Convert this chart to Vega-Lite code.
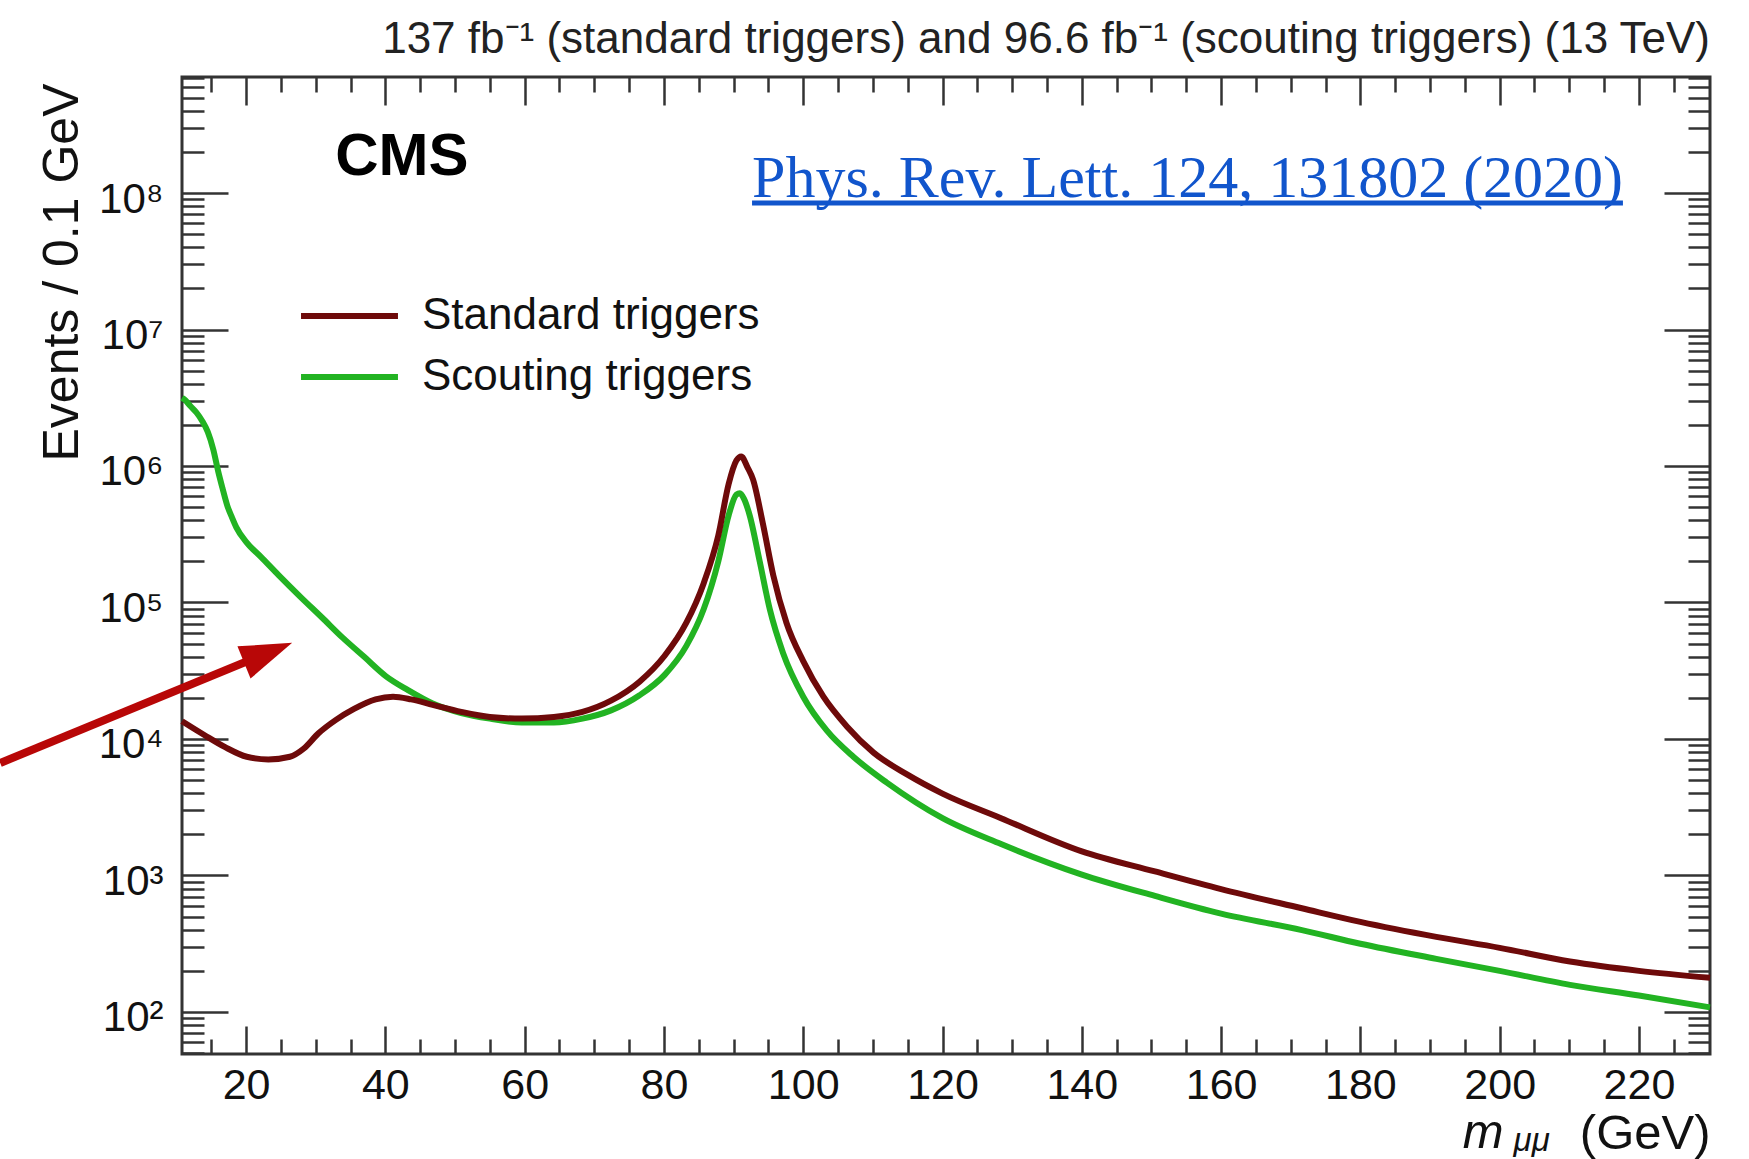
{
  "$schema": "https://vega.github.io/schema/vega-lite/v6.json",
  "autosize": "none",
  "width": 1528,
  "height": 977,
  "padding": {"left": 182, "top": 77, "right": 39, "bottom": 105},
  "background": "white",
  "title": {
    "text": "137 fb⁻¹ (standard triggers) and 96.6 fb⁻¹ (scouting triggers) (13 TeV)",
    "anchor": "end",
    "frame": "group",
    "offset": -34,
    "baseline": "alphabetic",
    "font": "Liberation Sans",
    "fontSize": 44,
    "fontWeight": "normal",
    "color": "#222"
  },
  "config": {
    "view": {"stroke": "#333", "strokeWidth": 3},
    "font": "Liberation Sans"
  },
  "resolve": {"axis": {"x": "independent", "y": "independent"}},
  "layer": [
    {
      "data": {
        "values": [
          {"m": 10.8, "events": 3160000, "trigger": "Scouting triggers"},
          {"m": 11.1, "events": 3090000, "trigger": "Scouting triggers"},
          {"m": 12.0, "events": 2750000, "trigger": "Scouting triggers"},
          {"m": 12.9, "events": 2455000, "trigger": "Scouting triggers"},
          {"m": 13.7, "events": 2140000, "trigger": "Scouting triggers"},
          {"m": 14.5, "events": 1778000, "trigger": "Scouting triggers"},
          {"m": 15.3, "events": 1318000, "trigger": "Scouting triggers"},
          {"m": 16.0, "events": 912000, "trigger": "Scouting triggers"},
          {"m": 16.6, "events": 692000, "trigger": "Scouting triggers"},
          {"m": 17.3, "events": 513000, "trigger": "Scouting triggers"},
          {"m": 18.0, "events": 417000, "trigger": "Scouting triggers"},
          {"m": 18.6, "events": 355000, "trigger": "Scouting triggers"},
          {"m": 20.1, "events": 275000, "trigger": "Scouting triggers"},
          {"m": 22.2, "events": 214000, "trigger": "Scouting triggers"},
          {"m": 24.7, "events": 158000, "trigger": "Scouting triggers"},
          {"m": 27.8, "events": 110000, "trigger": "Scouting triggers"},
          {"m": 30.9, "events": 77600, "trigger": "Scouting triggers"},
          {"m": 33.9, "events": 55000, "trigger": "Scouting triggers"},
          {"m": 37.0, "events": 39800, "trigger": "Scouting triggers"},
          {"m": 40.1, "events": 28800, "trigger": "Scouting triggers"},
          {"m": 43.2, "events": 22900, "trigger": "Scouting triggers"},
          {"m": 46.8, "events": 18200, "trigger": "Scouting triggers"},
          {"m": 50.9, "events": 15500, "trigger": "Scouting triggers"},
          {"m": 55.0, "events": 14100, "trigger": "Scouting triggers"},
          {"m": 59.6, "events": 13200, "trigger": "Scouting triggers"},
          {"m": 64.2, "events": 13200, "trigger": "Scouting triggers"},
          {"m": 68.3, "events": 14100, "trigger": "Scouting triggers"},
          {"m": 72.4, "events": 16200, "trigger": "Scouting triggers"},
          {"m": 76.5, "events": 20900, "trigger": "Scouting triggers"},
          {"m": 80.1, "events": 29500, "trigger": "Scouting triggers"},
          {"m": 83.2, "events": 47900, "trigger": "Scouting triggers"},
          {"m": 85.7, "events": 89100, "trigger": "Scouting triggers"},
          {"m": 87.8, "events": 200000, "trigger": "Scouting triggers"},
          {"m": 89.3, "events": 437000, "trigger": "Scouting triggers"},
          {"m": 90.4, "events": 617000, "trigger": "Scouting triggers"},
          {"m": 90.9, "events": 631000, "trigger": "Scouting triggers"},
          {"m": 91.5, "events": 575000, "trigger": "Scouting triggers"},
          {"m": 92.3, "events": 437000, "trigger": "Scouting triggers"},
          {"m": 93.75, "events": 200000, "trigger": "Scouting triggers"},
          {"m": 95.2, "events": 89100, "trigger": "Scouting triggers"},
          {"m": 97.1, "events": 42700, "trigger": "Scouting triggers"},
          {"m": 100.0, "events": 20400, "trigger": "Scouting triggers"},
          {"m": 103.4, "events": 11500, "trigger": "Scouting triggers"},
          {"m": 107.2, "events": 7410, "trigger": "Scouting triggers"},
          {"m": 112.0, "events": 4790, "trigger": "Scouting triggers"},
          {"m": 120.0, "events": 2630, "trigger": "Scouting triggers"},
          {"m": 128.4, "events": 1700, "trigger": "Scouting triggers"},
          {"m": 139.9, "events": 1020, "trigger": "Scouting triggers"},
          {"m": 150.5, "events": 708, "trigger": "Scouting triggers"},
          {"m": 160.0, "events": 525, "trigger": "Scouting triggers"},
          {"m": 171.6, "events": 398, "trigger": "Scouting triggers"},
          {"m": 180.0, "events": 316, "trigger": "Scouting triggers"},
          {"m": 190.9, "events": 245, "trigger": "Scouting triggers"},
          {"m": 200.0, "events": 200, "trigger": "Scouting triggers"},
          {"m": 210.1, "events": 158, "trigger": "Scouting triggers"},
          {"m": 220.0, "events": 132, "trigger": "Scouting triggers"},
          {"m": 230.2, "events": 108, "trigger": "Scouting triggers"},
          {"m": 10.8, "events": 13500, "trigger": "Standard triggers"},
          {"m": 11.1, "events": 13200, "trigger": "Standard triggers"},
          {"m": 14.0, "events": 10700, "trigger": "Standard triggers"},
          {"m": 17.0, "events": 8710, "trigger": "Standard triggers"},
          {"m": 20.1, "events": 7410, "trigger": "Standard triggers"},
          {"m": 23.2, "events": 7080, "trigger": "Standard triggers"},
          {"m": 26.3, "events": 7410, "trigger": "Standard triggers"},
          {"m": 28.3, "events": 8510, "trigger": "Standard triggers"},
          {"m": 30.4, "events": 11000, "trigger": "Standard triggers"},
          {"m": 32.9, "events": 13800, "trigger": "Standard triggers"},
          {"m": 35.5, "events": 16600, "trigger": "Standard triggers"},
          {"m": 38.6, "events": 19500, "trigger": "Standard triggers"},
          {"m": 41.1, "events": 20400, "trigger": "Standard triggers"},
          {"m": 43.7, "events": 19500, "trigger": "Standard triggers"},
          {"m": 46.8, "events": 17800, "trigger": "Standard triggers"},
          {"m": 50.9, "events": 15800, "trigger": "Standard triggers"},
          {"m": 55.0, "events": 14500, "trigger": "Standard triggers"},
          {"m": 59.6, "events": 14100, "trigger": "Standard triggers"},
          {"m": 64.2, "events": 14500, "trigger": "Standard triggers"},
          {"m": 68.3, "events": 15800, "trigger": "Standard triggers"},
          {"m": 72.4, "events": 19100, "trigger": "Standard triggers"},
          {"m": 76.5, "events": 26300, "trigger": "Standard triggers"},
          {"m": 80.1, "events": 40700, "trigger": "Standard triggers"},
          {"m": 83.2, "events": 70800, "trigger": "Standard triggers"},
          {"m": 85.7, "events": 138000, "trigger": "Standard triggers"},
          {"m": 87.8, "events": 309000, "trigger": "Standard triggers"},
          {"m": 89.3, "events": 741000, "trigger": "Standard triggers"},
          {"m": 90.4, "events": 1096000, "trigger": "Standard triggers"},
          {"m": 91.1, "events": 1175000, "trigger": "Standard triggers"},
          {"m": 92.0, "events": 977000, "trigger": "Standard triggers"},
          {"m": 92.8, "events": 794000, "trigger": "Standard triggers"},
          {"m": 94.2, "events": 380000, "trigger": "Standard triggers"},
          {"m": 95.7, "events": 158000, "trigger": "Standard triggers"},
          {"m": 97.6, "events": 70800, "trigger": "Standard triggers"},
          {"m": 100.0, "events": 37200, "trigger": "Standard triggers"},
          {"m": 102.9, "events": 20400, "trigger": "Standard triggers"},
          {"m": 106.3, "events": 12300, "trigger": "Standard triggers"},
          {"m": 110.1, "events": 7940, "trigger": "Standard triggers"},
          {"m": 114.9, "events": 5500, "trigger": "Standard triggers"},
          {"m": 120.0, "events": 3980, "trigger": "Standard triggers"},
          {"m": 128.4, "events": 2630, "trigger": "Standard triggers"},
          {"m": 139.9, "events": 1510, "trigger": "Standard triggers"},
          {"m": 150.5, "events": 1070, "trigger": "Standard triggers"},
          {"m": 160.0, "events": 794, "trigger": "Standard triggers"},
          {"m": 171.6, "events": 575, "trigger": "Standard triggers"},
          {"m": 180.0, "events": 457, "trigger": "Standard triggers"},
          {"m": 190.9, "events": 355, "trigger": "Standard triggers"},
          {"m": 200.0, "events": 295, "trigger": "Standard triggers"},
          {"m": 210.1, "events": 234, "trigger": "Standard triggers"},
          {"m": 220.0, "events": 200, "trigger": "Standard triggers"},
          {"m": 230.2, "events": 178, "trigger": "Standard triggers"}
        ]
      },
      "mark": {"type": "line", "strokeWidth": 6, "interpolate": "monotone"},
      "encoding": {
        "x": {
          "field": "m",
          "type": "quantitative",
          "scale": {"domain": [10.8, 230.2], "nice": false, "zero": false},
          "axis": {
            "orient": "bottom",
            "values": [15, 20, 25, 30, 35, 40, 45, 50, 55, 60, 65, 70, 75, 80, 85, 90, 95, 100, 105, 110, 115, 120, 125, 130, 135, 140, 145, 150, 155, 160, 165, 170, 175, 180, 185, 190, 195, 200, 205, 210, 215, 220, 225],
            "domain": false,
            "grid": false,
            "tickColor": "#333",
            "tickWidth": 2.5,
            "tickSize": {"condition": {"test": "datum.value % 20 === 0", "value": -28}, "value": -15},
            "format": "d",
            "labelExpr": "datum.value % 20 === 0 ? datum.label : ''",
            "labelFont": "Liberation Sans",
            "labelFontSize": 43,
            "labelColor": "#111",
            "labelBaseline": "alphabetic",
            "labelPadding": 72,
            "labelFlush": false,
            "labelOverlap": false,
            "title": "(GeV)",
            "titleFont": "Liberation Sans",
            "titleFontSize": 49,
            "titleFontWeight": "normal",
            "titleColor": "#111",
            "titleAlign": "right",
            "titleBaseline": "alphabetic",
            "titleX": 1528,
            "titleY": 94
          }
        },
        "y": {
          "field": "events",
          "type": "quantitative",
          "scale": {"type": "log", "domain": [49.2, 708000000], "nice": false},
          "axis": {
            "orient": "left",
            "values": [50, 60, 70, 80, 90, 100, 200, 300, 400, 500, 600, 700, 800, 900, 1000, 2000, 3000, 4000, 5000, 6000, 7000, 8000, 9000, 10000, 20000, 30000, 40000, 50000, 60000, 70000, 80000, 90000, 100000, 200000, 300000, 400000, 500000, 600000, 700000, 800000, 900000, 1000000, 2000000, 3000000, 4000000, 5000000, 6000000, 7000000, 8000000, 9000000, 10000000, 20000000, 30000000, 40000000, 50000000, 60000000, 70000000, 80000000, 90000000, 100000000, 200000000, 300000000, 400000000, 500000000, 600000000, 700000000],
            "domain": false,
            "grid": false,
            "tickColor": "#333",
            "tickWidth": 2.5,
            "tickSize": {"condition": {"test": "abs(log(datum.value)/LN10 - round(log(datum.value)/LN10)) < 0.001", "value": -46}, "value": -22},
            "labelExpr": "abs(log(datum.value)/LN10 - round(log(datum.value)/LN10)) < 0.001 ? '10' + ['⁰','¹','²','³','⁴','⁵','⁶','⁷','⁸','⁹'][round(log(datum.value)/LN10)] : ''",
            "labelFont": "Liberation Sans",
            "labelFontSize": 42,
            "labelColor": "#111",
            "labelAlign": "right",
            "labelBaseline": "middle",
            "labelPadding": 65,
            "labelOffset": 6,
            "labelFlush": false,
            "labelOverlap": false,
            "title": "Events / 0.1 GeV",
            "titleFont": "Liberation Sans",
            "titleFontSize": 50,
            "titleFontWeight": "normal",
            "titleColor": "#111",
            "titleAngle": 270,
            "titleAlign": "right",
            "titleBaseline": "alphabetic",
            "titleX": -105,
            "titleY": 6
          }
        },
        "color": {
          "field": "trigger",
          "type": "nominal",
          "scale": {"domain": ["Standard triggers", "Scouting triggers"], "range": ["#6e0a0a", "#22b322"]},
          "legend": null
        }
      }
    },
    {
      "data": {"values": [{}]},
      "mark": {"type": "text", "text": "CMS", "font": "Liberation Sans", "fontSize": 60, "fontWeight": "bold", "align": "left", "baseline": "alphabetic", "color": "#000"},
      "encoding": {
        "x": {
          "datum": 32.8,
          "type": "quantitative",
          "axis": {
            "orient": "top",
            "values": [15, 20, 25, 30, 35, 40, 45, 50, 55, 60, 65, 70, 75, 80, 85, 90, 95, 100, 105, 110, 115, 120, 125, 130, 135, 140, 145, 150, 155, 160, 165, 170, 175, 180, 185, 190, 195, 200, 205, 210, 215, 220, 225],
            "domain": false,
            "grid": false,
            "labels": false,
            "title": null,
            "tickColor": "#333",
            "tickWidth": 2.5,
            "tickSize": {"condition": {"test": "datum.value % 20 === 0", "value": -28}, "value": -15}
          }
        },
        "y": {
          "datum": 135500000,
          "type": "quantitative",
          "axis": {
            "orient": "right",
            "values": [50, 60, 70, 80, 90, 100, 200, 300, 400, 500, 600, 700, 800, 900, 1000, 2000, 3000, 4000, 5000, 6000, 7000, 8000, 9000, 10000, 20000, 30000, 40000, 50000, 60000, 70000, 80000, 90000, 100000, 200000, 300000, 400000, 500000, 600000, 700000, 800000, 900000, 1000000, 2000000, 3000000, 4000000, 5000000, 6000000, 7000000, 8000000, 9000000, 10000000, 20000000, 30000000, 40000000, 50000000, 60000000, 70000000, 80000000, 90000000, 100000000, 200000000, 300000000, 400000000, 500000000, 600000000, 700000000],
            "domain": false,
            "grid": false,
            "labels": false,
            "title": null,
            "tickColor": "#333",
            "tickWidth": 2.5,
            "tickSize": {"condition": {"test": "abs(log(datum.value)/LN10 - round(log(datum.value)/LN10)) < 0.001", "value": -46}, "value": -22}
          }
        }
      }
    },
    {
      "data": {"values": [{}]},
      "mark": {"type": "rule", "color": "#6e0a0a", "strokeWidth": 6},
      "encoding": {
        "x": {"datum": 27.89, "type": "quantitative", "axis": null},
        "x2": {"datum": 41.81},
        "y": {"datum": 12560000, "type": "quantitative", "axis": null}
      }
    },
    {
      "data": {"values": [{}]},
      "mark": {"type": "rule", "color": "#22b322", "strokeWidth": 6},
      "encoding": {
        "x": {"datum": 27.89, "type": "quantitative", "axis": null},
        "x2": {"datum": 41.81},
        "y": {"datum": 4490000, "type": "quantitative", "axis": null}
      }
    },
    {
      "data": {"values": [{}]},
      "mark": {"type": "text", "text": "Standard triggers", "font": "Liberation Sans", "fontSize": 44, "align": "left", "baseline": "middle", "color": "#111"},
      "encoding": {
        "x": {"datum": 45.26, "type": "quantitative", "axis": null},
        "y": {"datum": 12560000, "type": "quantitative", "axis": null}
      }
    },
    {
      "data": {"values": [{}]},
      "mark": {"type": "text", "text": "Scouting triggers", "font": "Liberation Sans", "fontSize": 44, "align": "left", "baseline": "middle", "color": "#111"},
      "encoding": {
        "x": {"datum": 45.26, "type": "quantitative", "axis": null},
        "y": {"datum": 4490000, "type": "quantitative", "axis": null}
      }
    },
    {
      "data": {"values": [{}]},
      "mark": {"type": "text", "text": "Phys. Rev. Lett. 124, 131802 (2020)", "font": "Liberation Serif", "fontSize": 60, "align": "left", "baseline": "alphabetic", "color": "#1155cc"},
      "encoding": {
        "x": {"datum": 92.65, "type": "quantitative", "axis": null},
        "y": {"datum": 93500000, "type": "quantitative", "axis": null}
      }
    },
    {
      "data": {"values": [{}]},
      "mark": {"type": "rule", "color": "#1155cc", "strokeWidth": 5},
      "encoding": {
        "x": {"datum": 92.65, "type": "quantitative", "axis": null},
        "x2": {"datum": 217.7},
        "y": {"datum": 84500000, "type": "quantitative", "axis": null}
      }
    },
    {
      "data": {"values": [{}]},
      "mark": {"type": "rule", "color": "#b80707", "strokeWidth": 8},
      "encoding": {
        "x": {"datum": -15.3, "type": "quantitative", "axis": null},
        "x2": {"datum": 21.3},
        "y": {"datum": 6670, "type": "quantitative", "axis": null},
        "y2": {"datum": 39200}
      }
    },
    {
      "data": {"values": [{}]},
      "mark": {"type": "point", "shape": "M0,-1L0.67,1L-0.67,1Z", "size": 2704, "angle": 67.9, "filled": true, "color": "#b80707", "opacity": 1},
      "encoding": {
        "x": {"datum": 23.16, "type": "quantitative", "axis": null},
        "y": {"datum": 42900, "type": "quantitative", "axis": null}
      }
    },
    {
      "data": {"values": [{}]},
      "mark": {"type": "text", "text": "m", "font": "Liberation Sans", "fontSize": 49, "fontStyle": "italic", "align": "left", "baseline": "alphabetic", "color": "#111"},
      "encoding": {
        "x": {"datum": 194.7, "type": "quantitative", "axis": null},
        "y": {"datum": 10.09, "type": "quantitative", "axis": null}
      }
    },
    {
      "data": {"values": [{}]},
      "mark": {"type": "text", "text": "μμ", "font": "Liberation Sans", "fontSize": 33, "fontStyle": "italic", "align": "left", "baseline": "alphabetic", "color": "#111"},
      "encoding": {
        "x": {"datum": 202.0, "type": "quantitative", "axis": null},
        "y": {"datum": 9.59, "type": "quantitative", "axis": null}
      }
    }
  ]
}
